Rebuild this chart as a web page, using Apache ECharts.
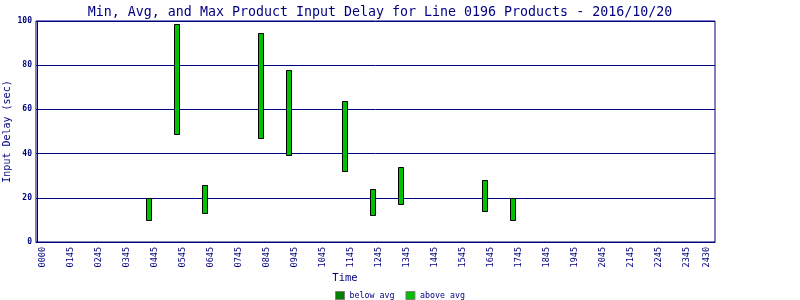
<!DOCTYPE html>
<html>
<head>
<meta charset="utf-8">
<script src="https://cdn.jsdelivr.net/npm/echarts@6/dist/echarts.min.js"></script>
<style>html,body{margin:0;padding:0;background:#fff}#c{width:800px;height:300px}</style>
</head>
<body>
<div id="c"></div>
<script>
// ---- data ----
const titleText = 'Min, Avg, and Max Product Input Delay for Line 0196 Products - 2016/10/20';
const hours = [4, 5, 6, 8, 9, 11, 12, 13, 16, 17];
const minDelay = [10, 49, 13, 47, 39.5, 32, 12, 17, 14, 10];
const maxDelay = [20, 98.5, 26, 94.5, 78, 64, 24, 34, 28, 20];
const tickLabels = ['0000','0145','0245','0345','0445','0545','0645','0745','0845','0945','1045','1145',
  '1245','1345','1445','1545','1645','1745','1845','1945','2045','2145','2245','2345','2430'];
const tickHours = [0,1,2,3,4,5,6,7,8,9,10,11,12,13,14,15,16,17,18,19,20,21,22,23,23.7];
const seriesNames = ['below avg', 'above avg'];

// ---- styles ----
const NAVY = '#000080';
const MONO = 'DejaVu Sans Mono';
const LABEL_SHIFT = 0.2;
const labelValues = tickHours.map(h => h + LABEL_SHIFT);

const chart = echarts.init(document.getElementById('c'), null, {renderer: 'canvas'});
chart.setOption({
  animation: false,
  backgroundColor: '#fff',
  title: {
    text: titleText,
    left: 375, top: 1, textAlign: 'center',
    textStyle: {color: NAVY, fontFamily: MONO, fontSize: 13.3, fontWeight: 'normal'}
  },
  legend: {
    left: 333, top: 289, itemWidth: 9, itemHeight: 8, itemGap: 11, padding: 2,
    data: [
      {name: seriesNames[0], icon: 'rect', itemStyle: {color: '#008000', borderColor: '#808080', borderWidth: 1}},
      {name: seriesNames[1], icon: 'rect', itemStyle: {color: '#00c000', borderColor: '#808080', borderWidth: 1}}
    ],
    textStyle: {color: NAVY, fontFamily: MONO, fontSize: 8.3, padding: [0, 0, 0, 0]}
  },
  grid: {left: 36, right: 85, top: 21, bottom: 58, show: true, borderColor: NAVY, borderWidth: 1,
         containLabel: false, outerBoundsMode: 'none'},
  xAxis: {
    type: 'value', min: -0.05, max: 24.2,
    name: 'Time', nameLocation: 'middle', nameGap: 31, nameMoveOverlap: false,
    nameTextStyle: {color: NAVY, fontFamily: MONO, fontSize: 10.5, padding: [0, 61, 0, 0]},
    axisLine: {show: true, lineStyle: {color: NAVY}},
    axisTick: {show: false},
    splitLine: {show: false},
    axisLabel: {
      customValues: labelValues,
      rotate: 90, margin: 5, color: NAVY, fontFamily: MONO, fontSize: 8.5,
      formatter: v => {
        const i = labelValues.findIndex(x => Math.abs(x - v) < 1e-6);
        return i >= 0 ? tickLabels[i] : '';
      }
    }
  },
  yAxis: {
    type: 'value', min: 0, max: 100, interval: 20,
    name: 'Input Delay (sec)', nameLocation: 'middle', nameGap: 24, nameMoveOverlap: false,
    nameTextStyle: {color: NAVY, fontFamily: MONO, fontSize: 10},
    axisLine: {show: true, lineStyle: {color: NAVY}},
    axisTick: {show: false},
    splitLine: {show: true, lineStyle: {color: NAVY, width: 1}},
    axisLabel: {color: NAVY, fontFamily: MONO, fontSize: 8, fontWeight: 'bold', margin: 4}
  },
  series: [
    {
      name: seriesNames[0], type: 'custom', data: [],
      itemStyle: {color: '#008000'},
      renderItem: () => null
    },
    {
      name: seriesNames[1], type: 'custom',
      itemStyle: {color: '#00c000'},
      encode: {x: 0, y: [1, 2]},
      data: hours.map((h, i) => [h, minDelay[i], maxDelay[i]]),
      renderItem: (params, api) => {
        const top = api.coord([api.value(0), api.value(2)]);
        const bot = api.coord([api.value(0), api.value(1)]);
        const cx = Math.round(top[0]);
        const y1 = Math.round(top[1]) + 0.5, y2 = Math.round(bot[1]) + 0.5;
        return {
          type: 'rect',
          shape: {x: cx - 2.5, y: y1, width: 5, height: y2 - y1},
          style: {fill: '#00c000', stroke: '#000', lineWidth: 1}
        };
      }
    }
  ]
});
</script>
</body>
</html>
